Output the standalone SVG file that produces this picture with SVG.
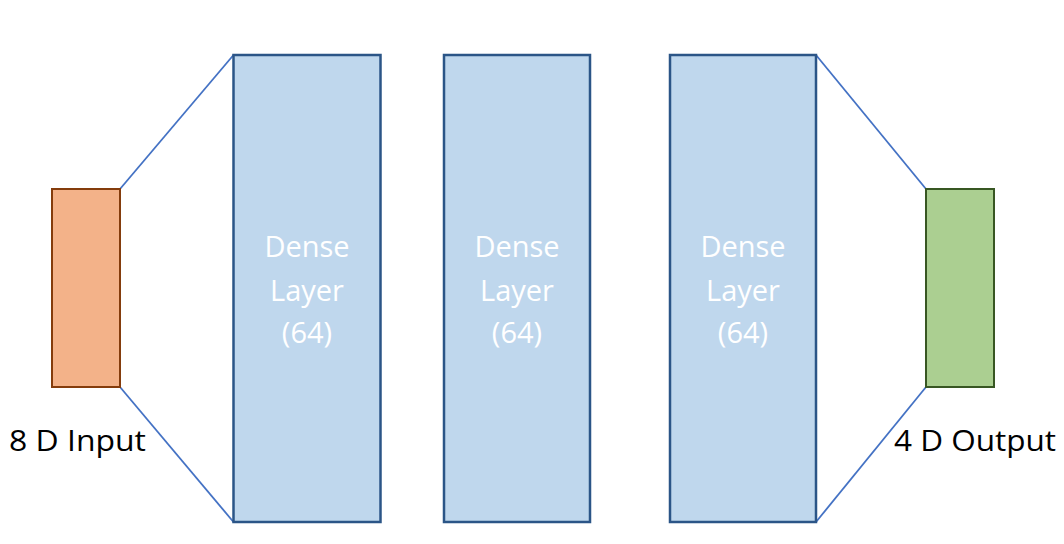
<svg xmlns="http://www.w3.org/2000/svg" width="1064" height="544" viewBox="0 0 1064 544">
<style>
.dense{fill:#BFD7ED;stroke:#2B5587;stroke-width:2.5}
.dt{font-family:"Open Sans","Liberation Sans",sans-serif;font-size:29px;fill:#FFFFFF;text-anchor:middle}
.lbl{font-family:"Open Sans","Liberation Sans",sans-serif;font-size:29px;fill:#000000}
.conn{stroke:#4472C4;stroke-width:1.8;fill:none}
</style>
<rect width="1064" height="544" fill="#FFFFFF"/>
<g id="connectors">
<line class="conn" x1="120" y1="189" x2="233.5" y2="55"/>
<line class="conn" x1="120" y1="387" x2="233.5" y2="522"/>
<line class="conn" x1="816" y1="55" x2="926" y2="189"/>
<line class="conn" x1="816" y1="522" x2="926" y2="387"/>
</g>
<g id="input">
<rect x="52" y="189" width="68" height="198" fill="#F3B289" stroke="#843C0C" stroke-width="2"/>
<text class="lbl" x="9" y="451" textLength="137" lengthAdjust="spacingAndGlyphs">8 D Input</text>
</g>
<g id="dense1">
<rect class="dense" x="233.5" y="55" width="147" height="467"/>
<text class="dt" x="307" y="257">Dense</text>
<text class="dt" x="307" y="301">Layer</text>
<text class="dt" x="307" y="343">(64)</text>
</g>
<g id="dense2">
<rect class="dense" x="444" y="55" width="146" height="467"/>
<text class="dt" x="517" y="257">Dense</text>
<text class="dt" x="517" y="301">Layer</text>
<text class="dt" x="517" y="343">(64)</text>
</g>
<g id="dense3">
<rect class="dense" x="670" y="55" width="146" height="467"/>
<text class="dt" x="743" y="257">Dense</text>
<text class="dt" x="743" y="301">Layer</text>
<text class="dt" x="743" y="343">(64)</text>
</g>
<g id="output">
<rect x="926" y="189" width="68" height="198" fill="#ABCF91" stroke="#385723" stroke-width="2"/>
<text class="lbl" x="894" y="451" textLength="162" lengthAdjust="spacingAndGlyphs">4 D Output</text>
</g>
</svg>
